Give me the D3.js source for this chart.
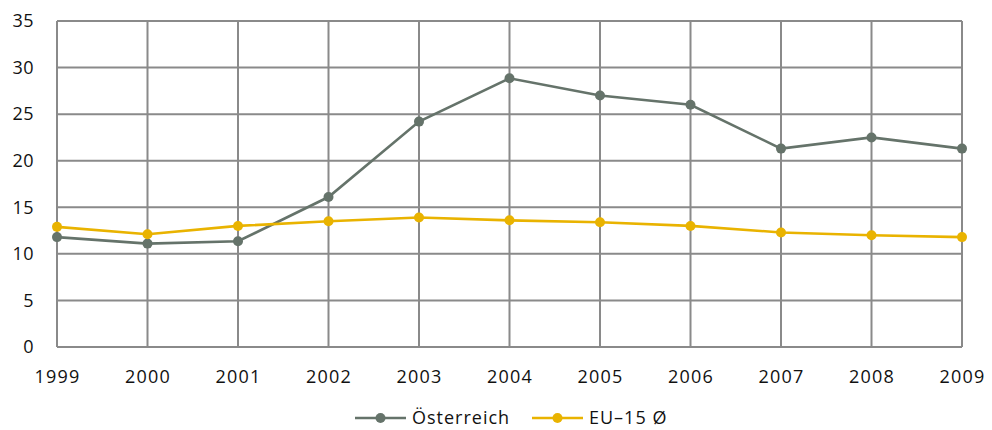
<!DOCTYPE html>
<html>
<head>
<meta charset="utf-8">
<script src="https://cdn.jsdelivr.net/npm/d3@7"></script>
<style>
  html, body { margin: 0; padding: 0; background: #fff; }
  svg text { font-family: "Open Sans", "DejaVu Sans", sans-serif; fill: #111; }
</style>
</head>
<body>
<svg id="chart" width="992" height="430"></svg>
<script>
// Years on the x axis
const years = ["1999", "2000", "2001", "2002", "2003", "2004", "2005", "2006", "2007", "2008", "2009"];
// Series values
const oesterreich = [11.8, 11.1, 11.35, 16.1, 24.2, 28.85, 27.0, 26.0, 21.3, 22.5, 21.3];
const eu15 = [12.9, 12.1, 13.0, 13.5, 13.9, 13.6, 13.4, 13.0, 12.3, 12.0, 11.8];
// Y axis ticks
const yTicks = [0, 5, 10, 15, 20, 25, 30, 35];

const seriesNames = ["Österreich", "EU–15 Ø"];
const seriesColors = ["#65736a", "#e9b300"];

const svg = d3.select("#chart");
const margin = { left: 57, right: 30, top: 21, bottom: 83 };
const W = 992, H = 430;

const x = d3.scalePoint().domain(years).range([margin.left, W - margin.right]);
const y = d3.scaleLinear().domain([0, 35]).range([H - margin.bottom, margin.top]);

const grid = svg.append("g");
// horizontal gridlines
grid.selectAll("line.h").data(yTicks).join("line")
  .attr("x1", margin.left).attr("x2", W - margin.right)
  .attr("y1", d => y(d)).attr("y2", d => y(d))
  .attr("stroke", "#8a8a8a").attr("stroke-width", 2);
// vertical gridlines
grid.selectAll("line.v").data(years).join("line")
  .attr("x1", d => x(d)).attr("x2", d => x(d))
  .attr("y1", y(35)).attr("y2", y(0))
  .attr("stroke", "#8a8a8a").attr("stroke-width", 2);

// axes (labels only)
const yAxis = svg.append("g")
  .attr("transform", `translate(${margin.left},0)`)
  .call(d3.axisLeft(y).tickValues(yTicks).tickSize(0).tickPadding(23));
yAxis.select(".domain").remove();
yAxis.selectAll("text").attr("font-size", 18).style("letter-spacing", "0.5px")
  .attr("font-family", "'Open Sans', sans-serif").attr("fill", "#111");

const xAxis = svg.append("g")
  .attr("transform", `translate(0,${y(0)})`)
  .call(d3.axisBottom(x).tickSize(0).tickPadding(23));
xAxis.select(".domain").remove();
xAxis.selectAll("text").attr("font-size", 18).style("letter-spacing", "1.2px")
  .attr("font-family", "'Open Sans', sans-serif").attr("fill", "#111");

// series
const allSeries = [oesterreich, eu15];
const line = d3.line().x((d, i) => x(years[i])).y(d => y(d));
allSeries.forEach((vals, si) => {
  const g = svg.append("g");
  g.append("path").datum(vals)
    .attr("fill", "none").attr("stroke", seriesColors[si])
    .attr("stroke-width", 2.6).attr("d", line);
  g.selectAll("circle").data(vals).join("circle")
    .attr("cx", (d, i) => x(years[i])).attr("cy", d => y(d))
    .attr("r", 5).attr("fill", seriesColors[si]);
});

// legend
const legendX = [355, 532];
seriesNames.forEach((name, i) => {
  const g = svg.append("g").attr("transform", `translate(${legendX[i]},418)`);
  g.append("line").attr("x1", 0).attr("x2", 51).attr("y1", 0).attr("y2", 0)
    .attr("stroke", seriesColors[i]).attr("stroke-width", 2.6);
  g.append("circle").attr("cx", 25.5).attr("cy", 0).attr("r", 5).attr("fill", seriesColors[i]);
  g.append("text").attr("x", 57).attr("y", 0).attr("dy", "0.35em")
    .attr("font-size", 18).style("letter-spacing", "1px").text(name);
});
</script>
</body>
</html>
